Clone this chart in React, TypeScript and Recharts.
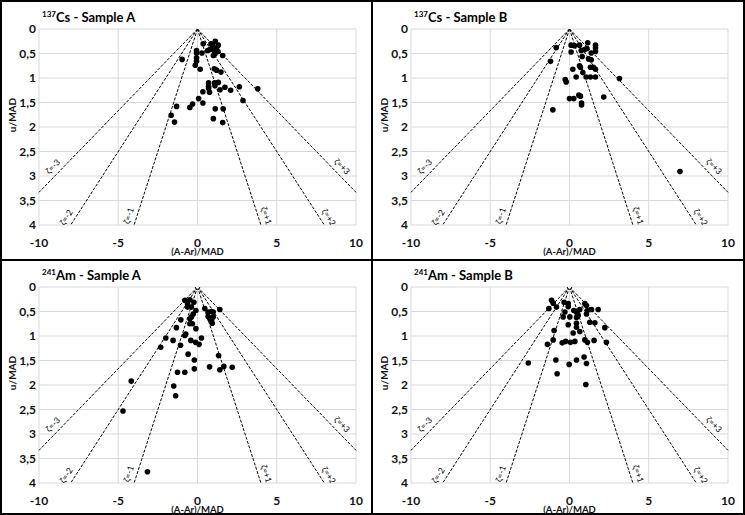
import React from 'react';
import { ScatterChart, Scatter, XAxis, YAxis, CartesianGrid, ReferenceLine } from 'recharts';

const FONT = 'Lato, "Liberation Sans", Arial, sans-serif';

// Axis ticks
const xTicks = [-10, -5, 0, 5, 10];
const yTicks = [0, 0.5, 1, 1.5, 2, 2.5, 3, 3.5, 4];

// Zeta-score guide lines: (A-Ar)/MAD = zeta * u/MAD
const zetaLevels = [-3, -2, -1, 1, 2, 3];

// Laboratory results: x = (A-Ar)/MAD, y = u/MAD
const csSampleA = [
  { x: 0.36, y: 0.3 }, { x: 0.85, y: 0.3 }, { x: 1.12, y: 0.25 }, { x: 0.95, y: 0.33 },
  { x: 1.31, y: 0.33 }, { x: 1.2, y: 0.39 }, { x: 1.0, y: 0.41 }, { x: 0.78, y: 0.42 },
  { x: 0.64, y: 0.44 }, { x: 1.04, y: 0.44 }, { x: 1.29, y: 0.46 }, { x: -0.06, y: 0.44 },
  { x: -0.06, y: 0.49 }, { x: 0.28, y: 0.49 }, { x: 1.1, y: 0.51 }, { x: 1.0, y: 0.54 },
  { x: 1.59, y: 0.54 }, { x: -0.97, y: 0.62 }, { x: -0.06, y: 0.59 }, { x: -0.06, y: 0.66 },
  { x: -0.14, y: 0.74 }, { x: 0.17, y: 0.82 }, { x: 1.06, y: 0.81 }, { x: 1.2, y: 0.84 },
  { x: 1.48, y: 0.88 }, { x: 0.7, y: 1.1 }, { x: 1.08, y: 1.1 }, { x: 1.31, y: 1.09 },
  { x: 0.7, y: 1.17 }, { x: 1.1, y: 1.16 }, { x: 0.7, y: 1.21 }, { x: 0.34, y: 1.28 },
  { x: 0.76, y: 1.29 }, { x: 1.42, y: 1.24 }, { x: 1.73, y: 1.19 }, { x: 2.09, y: 1.25 },
  { x: 2.64, y: 1.18 }, { x: 3.8, y: 1.22 }, { x: 2.87, y: 1.46 }, { x: 0.07, y: 1.42 },
  { x: 0.34, y: 1.51 }, { x: -0.31, y: 1.53 }, { x: -0.48, y: 1.6 }, { x: -1.32, y: 1.58 },
  { x: -1.66, y: 1.76 }, { x: -1.45, y: 1.9 }, { x: 1.12, y: 1.63 }, { x: 1.62, y: 1.63 },
  { x: 1.0, y: 1.83 }, { x: 1.59, y: 1.91 },
];

const csSampleB = [
  { x: -0.84, y: 0.38 }, { x: -1.2, y: 0.66 }, { x: 0.1, y: 0.33 }, { x: 0.31, y: 0.34 },
  { x: 0.63, y: 0.33 }, { x: 1.15, y: 0.28 }, { x: 1.64, y: 0.33 }, { x: 1.64, y: 0.39 },
  { x: 0.1, y: 0.47 }, { x: 0.74, y: 0.44 }, { x: 0.95, y: 0.42 }, { x: 1.1, y: 0.4 },
  { x: 1.37, y: 0.49 }, { x: 1.64, y: 0.46 }, { x: 0.8, y: 0.56 }, { x: 1.2, y: 0.61 },
  { x: 1.37, y: 0.63 }, { x: 0.21, y: 0.82 }, { x: 0.63, y: 0.75 }, { x: 0.69, y: 0.78 },
  { x: 0.84, y: 0.89 }, { x: 1.32, y: 0.78 }, { x: 1.51, y: 0.78 }, { x: 1.64, y: 0.82 },
  { x: -0.27, y: 1.03 }, { x: -0.21, y: 1.08 }, { x: 0.42, y: 0.98 }, { x: 1.05, y: 0.98 },
  { x: 1.32, y: 0.98 }, { x: 1.64, y: 0.98 }, { x: 3.15, y: 1.01 }, { x: 0.0, y: 1.42 },
  { x: 0.27, y: 1.42 }, { x: 0.59, y: 1.35 }, { x: 0.69, y: 1.37 }, { x: 0.76, y: 1.51 },
  { x: 0.76, y: 1.55 }, { x: 2.16, y: 1.39 }, { x: -1.05, y: 1.65 }, { x: 6.97, y: 2.91 },
];

const amSampleA = [
  { x: -0.8, y: 0.27 }, { x: -0.63, y: 0.34 }, { x: -0.48, y: 0.26 }, { x: -0.23, y: 0.31 },
  { x: -0.63, y: 0.41 }, { x: -0.38, y: 0.41 }, { x: 0.46, y: 0.44 }, { x: 1.41, y: 0.46 },
  { x: 0.67, y: 0.51 }, { x: 0.88, y: 0.5 }, { x: 0.99, y: 0.51 }, { x: -0.1, y: 0.48 },
  { x: -0.27, y: 0.55 }, { x: -0.38, y: 0.61 }, { x: -0.48, y: 0.65 }, { x: 0.67, y: 0.6 },
  { x: 0.78, y: 0.65 }, { x: 0.88, y: 0.68 }, { x: 0.99, y: 0.61 }, { x: 0.93, y: 0.74 },
  { x: -1.05, y: 0.67 }, { x: -1.33, y: 0.83 }, { x: -0.48, y: 0.75 }, { x: -0.32, y: 0.75 },
  { x: -0.1, y: 0.85 }, { x: -0.8, y: 0.99 }, { x: -0.74, y: 0.96 }, { x: -2.0, y: 1.04 },
  { x: -1.54, y: 1.09 }, { x: -0.42, y: 1.09 }, { x: -0.12, y: 1.13 }, { x: 0.1, y: 1.17 },
  { x: 0.25, y: 1.04 }, { x: -2.32, y: 1.23 }, { x: -1.07, y: 1.19 }, { x: -0.59, y: 1.37 },
  { x: -0.2, y: 1.49 }, { x: -0.2, y: 1.67 }, { x: -1.26, y: 1.74 }, { x: -0.8, y: 1.74 },
  { x: 0.76, y: 1.63 }, { x: 1.33, y: 1.4 }, { x: 1.41, y: 1.69 }, { x: 1.66, y: 1.62 },
  { x: 2.19, y: 1.64 }, { x: -1.5, y: 2.02 }, { x: -1.38, y: 2.22 }, { x: -4.18, y: 1.92 },
  { x: -4.7, y: 2.53 }, { x: -3.16, y: 3.77 },
];

const amSampleB = [
  { x: -1.13, y: 0.27 }, { x: -1.03, y: 0.33 }, { x: -1.3, y: 0.44 }, { x: -0.82, y: 0.41 },
  { x: -0.34, y: 0.31 }, { x: -0.08, y: 0.34 }, { x: -0.08, y: 0.4 }, { x: 0.97, y: 0.34 },
  { x: 1.07, y: 0.38 }, { x: 1.39, y: 0.46 }, { x: 1.81, y: 0.46 }, { x: 0.27, y: 0.48 },
  { x: 0.65, y: 0.46 }, { x: 1.13, y: 0.48 }, { x: -0.29, y: 0.51 }, { x: 0.44, y: 0.51 },
  { x: 0.5, y: 0.55 }, { x: 1.07, y: 0.55 }, { x: 0.55, y: 0.58 }, { x: 0.02, y: 0.61 },
  { x: -0.4, y: 0.61 }, { x: 0.44, y: 0.62 }, { x: 1.28, y: 0.72 }, { x: 1.6, y: 0.73 },
  { x: 2.23, y: 0.83 }, { x: 0.44, y: 0.74 }, { x: -0.08, y: 0.77 }, { x: 0.44, y: 0.82 },
  { x: -0.97, y: 0.89 }, { x: 0.65, y: 0.91 }, { x: 0.23, y: 0.94 }, { x: -1.03, y: 1.08 },
  { x: -1.39, y: 1.17 }, { x: -0.46, y: 1.14 }, { x: -0.25, y: 1.11 }, { x: 0.06, y: 1.13 },
  { x: 0.34, y: 1.11 }, { x: 0.97, y: 1.08 }, { x: 1.13, y: 1.13 }, { x: 1.55, y: 1.09 },
  { x: 2.33, y: 1.13 }, { x: -2.6, y: 1.55 }, { x: -0.86, y: 1.49 }, { x: -0.02, y: 1.58 },
  { x: 0.44, y: 1.49 }, { x: 0.92, y: 1.43 }, { x: 1.07, y: 1.56 }, { x: -0.78, y: 1.77 },
  { x: 1.03, y: 1.99 },
];

const panels = [
  { mass: '137', element: 'Cs', sample: 'Sample A', points: csSampleA, origin: false },
  { mass: '137', element: 'Cs', sample: 'Sample B', points: csSampleB, origin: false },
  { mass: '241', element: 'Am', sample: 'Sample A', points: amSampleA, origin: true },
  { mass: '241', element: 'Am', sample: 'Sample B', points: amSampleB, origin: true },
];

// Layout
const CHART_W = 370;
const CHART_H = 254;
const MARGIN = { top: 27, right: 16, bottom: 0, left: 7 };
const Y_AXIS_W = 30;
const X_AXIS_H = 31;
const PLOT_W = CHART_W - MARGIN.left - MARGIN.right - Y_AXIS_W;
const PLOT_H = CHART_H - MARGIN.top - MARGIN.bottom - X_AXIS_H;
const X_MAX = 10;
const Y_MAX = 4;

// where along each guide line its label sits (u/MAD)
const labelPosition = (z: number) => (Math.abs(z) >= 3 ? 2.92 : Math.abs(z) === 2 ? 3.93 : 3.86);

const lineEnd = (z: number) => {
  const yEnd = Math.min(Y_MAX, X_MAX / Math.abs(z));
  return { x: z * yEnd, y: yEnd };
};

const zetaLabelPoints = zetaLevels.map((z) => {
  const u = labelPosition(z);
  return { x: z * u, y: u, z };
});

const Dot = (props: any) => {
  const { cx, cy } = props;
  if (cx == null || cy == null) return null;
  return <circle cx={cx} cy={cy} r={2.8} fill="#000" />;
};

const OriginMark = (props: any) => {
  const { cx, cy } = props;
  if (cx == null || cy == null) return null;
  return <circle cx={cx} cy={cy} r={2.3} fill="#fff" stroke="#000" strokeWidth={1} />;
};

const ZetaLabel = (props: any) => {
  const { cx, cy, payload } = props;
  if (cx == null || cy == null) return null;
  const z = payload.z;
  const pxPerX = PLOT_W / (2 * X_MAX);
  const pxPerY = PLOT_H / Y_MAX;
  const angle = (Math.sign(z) * Math.atan2(pxPerY, Math.abs(z) * pxPerX) * 180) / Math.PI;
  const text = `ζ=${z > 0 ? '+' : ''}${z}`;
  return (
    <g transform={`translate(${cx},${cy}) rotate(${angle})`}>
      <text
        x={0}
        y={-8}
        textAnchor="middle"
        dominantBaseline="central"
        fontSize={8.5}
        fontFamily={FONT}
        style={{ fill: '#000', stroke: 'none' }}
      >
        {text}
      </text>
    </g>
  );
};

const tickStyle = { fontSize: 12, fontWeight: 700, fill: '#111', fontFamily: FONT };

function Panel({ panel, left, top }: { panel: any; left: number; top: number }) {
  return (
    <>
      <div style={{ position: 'absolute', left, top }}>
        <ScatterChart width={CHART_W} height={CHART_H} margin={MARGIN}>
          <CartesianGrid stroke="#d9d9d9" strokeWidth={1} />
          <XAxis
            type="number"
            dataKey="x"
            domain={[-X_MAX, X_MAX]}
            ticks={xTicks}
            interval={0}
            allowDataOverflow
            axisLine={false}
            tickLine={false}
            tickSize={0}
            tickMargin={13}
            height={X_AXIS_H}
            tick={tickStyle}
            label={{
              value: '(A-Ar)/MAD',
              position: 'insideBottom',
              offset: 1,
              style: { fontSize: 9.5, fontWeight: 700, fill: '#111', fontFamily: FONT },
            }}
          />
          <YAxis
            type="number"
            dataKey="y"
            reversed
            domain={[0, Y_MAX]}
            ticks={yTicks}
            interval={0}
            allowDataOverflow
            axisLine={false}
            tickLine={false}
            tickSize={0}
            tickMargin={3}
            width={Y_AXIS_W}
            tick={tickStyle}
            tickFormatter={(v: number) => String(v).replace('.', ',')}
          />
          {zetaLevels.map((z) => (
            <ReferenceLine
              key={z}
              segment={[{ x: 0, y: 0 }, lineEnd(z)]}
              stroke="#000"
              strokeWidth={1}
              strokeDasharray="3 1.5"
              ifOverflow="visible"
            />
          ))}
          <Scatter data={panel.points} shape={Dot} isAnimationActive={false} />
          <Scatter data={zetaLabelPoints} shape={ZetaLabel} isAnimationActive={false} />
          {panel.origin && (
            <Scatter data={[{ x: 0, y: 0 }]} shape={OriginMark} isAnimationActive={false} />
          )}
        </ScatterChart>
      </div>
      <div
        style={{
          position: 'absolute',
          left: left + 40,
          top: top + 7,
          fontFamily: FONT,
          fontWeight: 700,
          fontSize: 13,
          lineHeight: '16px',
          color: '#000',
          whiteSpace: 'nowrap',
        }}
      >
        <sup style={{ fontSize: 8, verticalAlign: 'top', lineHeight: '10px' }}>{panel.mass}</sup>
        {panel.element} - {panel.sample}
      </div>
      <div
        style={{
          position: 'absolute',
          left: left + 10,
          top: top + MARGIN.top + 86,
          transform: 'translate(-50%, -50%) rotate(-90deg)',
          fontFamily: FONT,
          fontWeight: 700,
          fontSize: 10,
          color: '#111',
          whiteSpace: 'nowrap',
        }}
      >
        u/MAD
      </div>
    </>
  );
}

const frame = (left: number, top: number, width: number, height: number) => (
  <div
    style={{
      position: 'absolute',
      left,
      top,
      width,
      height,
      border: '2px solid #000',
      boxSizing: 'border-box',
    }}
  />
);

export default function App() {
  const positions = [
    { left: 2, top: 2 },
    { left: 374, top: 2 },
    { left: 2, top: 260 },
    { left: 374, top: 260 },
  ];
  return (
    <div
      style={{
        position: 'absolute',
        left: 0,
        top: 0,
        width: 745,
        height: 515,
        background: '#fff',
        overflow: 'hidden',
      }}
    >
      {frame(0, 0, 373, 261)}
      {frame(371, 0, 374, 261)}
      {frame(0, 259, 373, 256)}
      {frame(371, 259, 374, 256)}
      {panels.map((p, i) => (
        <Panel key={i} panel={p} left={positions[i].left} top={positions[i].top} />
      ))}
    </div>
  );
}
